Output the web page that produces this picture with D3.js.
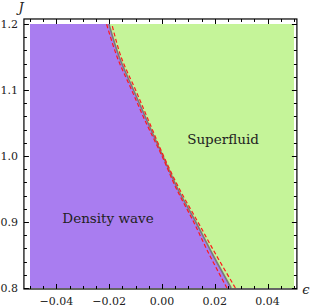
<!DOCTYPE html>
<html><head><meta charset="utf-8">
<script src="https://cdn.jsdelivr.net/npm/d3@7"></script>
<style>html,body{margin:0;padding:0;background:#fff;}svg{display:block;}</style>
</head><body>
<script>
// Data
const J = [0.80, 0.85, 0.90, 0.95, 1.00, 1.05, 1.10, 1.15, 1.20];
const epsCenter = [0.0262, 0.0193, 0.0128, 0.0060, 0.0003, -0.0053, -0.0108, -0.0162, -0.0201];
const epsLower  = [0.0246, 0.0180, 0.0120, 0.0055, 0.0000, -0.0060, -0.0115, -0.0170, -0.0210];
const epsUpper  = [0.0278, 0.0205, 0.0136, 0.0066, 0.0006, -0.0047, -0.0100, -0.0155, -0.0190];
const xTicks = [-0.04, -0.02, 0.00, 0.02, 0.04];
const yTicks = [0.8, 0.9, 1.0, 1.1, 1.2];
const regionLabels = ["Density wave", "Superfluid"];

const W = 312, H = 308;
const svg = d3.select("body").append("svg").attr("width", W).attr("height", H);

const x = d3.scaleLinear().domain([-0.05, 0.05]).range([30, 294]);
const y = d3.scaleLinear().domain([0.8, 1.2]).range([288, 24]);
const xF = [-0.0523, 0.0511], yF = [0.7985, 1.2076];

const pts = (arr) => J.map((j, i) => ({J: j, e: arr[i]}));
const center = pts(epsCenter);

// Fills
const areaL = d3.area().y(d => y(d.J)).x0(x(-0.05)).x1(d => x(d.e)).curve(d3.curveCatmullRom);
const areaR = d3.area().y(d => y(d.J)).x0(d => x(d.e)).x1(x(0.05)).curve(d3.curveCatmullRom);
svg.append("path").attr("d", areaL(center)).attr("fill", "#a97df0");
svg.append("path").attr("d", areaR(center)).attr("fill", "#c5f499");

// Lines
const line = d3.line().x(d => x(d.e)).y(d => y(d.J)).curve(d3.curveCatmullRom);
svg.append("path").attr("d", line(center)).attr("fill", "none").attr("stroke", "#7a7a7a").attr("stroke-width", 1.6);
[epsLower, epsUpper].forEach(a => {
  svg.append("path").attr("d", line(pts(a))).attr("fill", "none")
    .attr("stroke", "#ff1a1a").attr("stroke-width", 1.2).attr("stroke-dasharray", "4,2.5");
});

// Frame
const fx0 = x(xF[0]), fx1 = x(xF[1]), fy0 = y(yF[1]), fy1 = y(yF[0]);
svg.append("rect").attr("x", fx0).attr("y", fy0).attr("width", fx1 - fx0).attr("height", fy1 - fy0)
  .attr("fill", "none").attr("stroke", "#000").attr("stroke-width", 1.2);

// Ticks
const g = svg.append("g").attr("stroke", "#000").attr("stroke-width", 1);
const xMinor = d3.range(-0.05, 0.0501, 0.005);
const yMinor = d3.range(0.8, 1.2001, 0.02);
const isMajX = v => xTicks.some(t => Math.abs(t - v) < 1e-6);
const isMajY = v => yTicks.some(t => Math.abs(t - v) < 1e-6);
xMinor.forEach(v => {
  const L = isMajX(v) ? 5 : 3, px = Math.round(x(v)) + 0.5;
  g.append("line").attr("x1", px).attr("x2", px).attr("y1", fy1).attr("y2", fy1 - L);
  g.append("line").attr("x1", px).attr("x2", px).attr("y1", fy0).attr("y2", fy0 + L);
});
yMinor.forEach(v => {
  const L = isMajY(v) ? 5 : 3, py = Math.round(y(v)) + 0.5;
  g.append("line").attr("y1", py).attr("y2", py).attr("x1", fx0).attr("x2", fx0 + L);
  g.append("line").attr("y1", py).attr("y2", py).attr("x1", fx1).attr("x2", fx1 - L);
});

// Tick labels
const font = "'DejaVu Serif', serif";
const fmt = v => d3.format(".2f")(v).replace("-", "\u2212");
svg.selectAll(".xl").data(xTicks).enter().append("text")
  .attr("x", d => x(d)).attr("y", 305).attr("text-anchor", "middle")
  .attr("font-family", font).attr("font-size", 11).attr("fill", "#222").text(fmt);
svg.selectAll(".yl").data(yTicks).enter().append("text")
  .attr("x", 18).attr("y", d => y(d) + 4).attr("text-anchor", "end")
  .attr("font-family", font).attr("font-size", 11).attr("fill", "#222").text(d => d3.format(".1f")(d));

// Axis labels
svg.append("text").attr("x", 21).attr("y", 12).attr("text-anchor", "middle")
  .attr("font-family", font).attr("font-style", "italic").attr("font-size", 13).attr("fill", "#222").text("J");
svg.append("text").attr("x", 306).attr("y", 294).attr("text-anchor", "middle")
  .attr("font-family", font).attr("font-style", "italic").attr("font-size", 13).attr("fill", "#222").text("\u03f5");

// Region labels
svg.append("text").attr("x", 108).attr("y", 223).attr("text-anchor", "middle")
  .attr("font-family", font).attr("font-size", 13.5).attr("fill", "#222").text(regionLabels[0]);
svg.append("text").attr("x", 223).attr("y", 144).attr("text-anchor", "middle")
  .attr("font-family", font).attr("font-size", 13.5).attr("fill", "#222").text(regionLabels[1]);
</script>
</body></html>
